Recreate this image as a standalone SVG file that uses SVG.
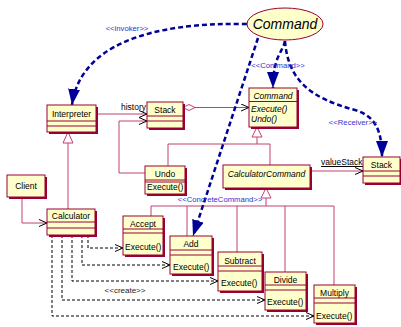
<svg xmlns="http://www.w3.org/2000/svg" width="401" height="327" viewBox="0 0 401 327">
<style>
.bg{fill:#fff}
.box{fill:#ffffcc;stroke:#990033;stroke-width:1}
.shd{fill:#990033}
.sep{stroke:#990033;stroke-width:1;fill:none}
.t{font-family:"Liberation Sans",Arial,sans-serif;font-size:8.5px;fill:#000}
.c{text-anchor:middle}
.i{font-style:italic}
.assoc{fill:none;stroke:#c04070;stroke-width:1}
.gen{fill:#fff;stroke:#c04070;stroke-width:1}
.dep{fill:none;stroke:#000;stroke-width:1;stroke-dasharray:3,2}
.blue{fill:none;stroke:#000099;stroke-width:2.5;stroke-dasharray:5,3}
.st{font-family:"Liberation Sans",Arial,sans-serif;font-size:7.7px;fill:#3333cc;text-anchor:middle}
.cr{font-family:"Liberation Sans",Arial,sans-serif;font-size:8px;fill:#222;text-anchor:middle}
</style>
<defs>
<marker id="open" viewBox="0 0 8 8" refX="8" refY="4" markerWidth="8" markerHeight="8" orient="auto" markerUnits="userSpaceOnUse">
<path d="M0,0.5 L8,4 L0,7.5" fill="none" stroke="#000" stroke-width="1"/>
</marker>
<marker id="bluehead" viewBox="0 0 16 12" refX="16" refY="6" markerWidth="16" markerHeight="12" orient="auto" markerUnits="userSpaceOnUse">
<path d="M0,0 L16,6 L0,12 z" fill="#000099"/>
</marker>
<marker id="diamond" viewBox="0 0 12 8" refX="0" refY="4" markerWidth="12" markerHeight="8" orient="auto" markerUnits="userSpaceOnUse">
<path d="M0,4 L6,1 L12,4 L6,7 z" fill="#fff" stroke="#c04070" stroke-width="1"/>
</marker>
</defs>
<rect class="bg" x="0" y="0" width="401" height="327"/>

<g id="connectors">
<path class="assoc" d="M68,143 L68,209"/>
<polygon class="gen" points="68,132 63,143 73,143"/>
<path class="assoc" d="M168,166 L168,144 L270,144 L270,165 M257,137 L257,144"/>
<polygon class="gen" points="257,127 252,137 262,137"/>
<path class="assoc" d="M266,198 L266,206 M151,206 L334,206 M151,206 L151,216 M187,206 L187,236 M237,206 L237,252 M285,206 L285,272 M334,206 L334,285"/>
<polygon class="gen" points="266,188 261,198 271,198"/>
<path class="assoc" d="M96,114 L147,114" marker-end="url(#open)"/>
<path class="assoc" d="M145,173 L119,173 L119,121 L147,121" marker-end="url(#open)"/>
<path class="assoc" d="M183,107.5 L249,107.5" marker-start="url(#diamond)" marker-end="url(#open)"/>
<path class="assoc" d="M310,171 L363,171" marker-end="url(#open)"/>
<path class="assoc" d="M22,197 L22,223 L47,223" marker-end="url(#open)"/>
<text class="t" x="121" y="110">history</text>
<text class="t" x="321" y="165">valueStack</text>
<line x1="321" y1="166.5" x2="364" y2="166.5" stroke="#000" stroke-width="1"/>
<path class="dep" d="M88,235 L88,248 L123,248" marker-end="url(#open)"/>
<path class="dep" d="M82,235 L82,265 L170,265" marker-end="url(#open)"/>
<path class="dep" d="M72,235 L72,281 L218,281" marker-end="url(#open)"/>
<path class="dep" d="M62,235 L62,300 L265,300" marker-end="url(#open)"/>
<path class="dep" d="M52,235 L52,316 L314,316" marker-end="url(#open)"/>
<text class="cr" x="125" y="293">&lt;&lt;create&gt;&gt;</text>
<path class="blue" d="M247,24 C150,22 80,45 72,105" marker-end="url(#bluehead)"/>
<path class="blue" d="M285,41 C283,52 273,56 273,88" marker-end="url(#bluehead)"/>
<path class="blue" d="M285,41 C288,80 310,98 355,110 C375,116 382,130 382,157" marker-end="url(#bluehead)"/>
<path class="blue" d="M258,38 L193,236" marker-end="url(#bluehead)"/>
<text class="st" x="127" y="31">&lt;&lt;invoker&gt;&gt;</text>
<text class="st" x="278" y="68">&lt;&lt;Command&gt;&gt;</text>
<text class="st" x="353" y="125">&lt;&lt;Receiver&gt;&gt;</text>
<text class="st" x="220" y="202">&lt;&lt;ConcreteCommand&gt;&gt;</text>
</g>

<g id="CommandPattern">
<ellipse cx="285" cy="24" rx="38" ry="16" fill="#ffffcc" stroke="#990033" stroke-width="1"/>
<text class="t c i" x="285" y="29" style="font-size:14px">Command</text>
</g>

<g id="Interpreter">
<rect class="shd" x="49" y="107" width="49" height="27"/>
<rect class="box" x="47" y="105" width="49" height="27"/>
<path class="sep" d="M47,121 H96 M47,126 H96"/>
<text class="t c" x="71.5" y="117">Interpreter</text>
</g>

<g id="HistoryStack">
<rect class="shd" x="149" y="104" width="36" height="26"/>
<rect class="box" x="147" y="102" width="36" height="26"/>
<path class="sep" d="M147,116 H183 M147,121 H183"/>
<text class="t c" x="165" y="113">Stack</text>
</g>

<g id="CommandClass">
<rect class="shd" x="251" y="90" width="48" height="39"/>
<rect class="box" x="249" y="88" width="48" height="39"/>
<path class="sep" d="M249,101.5 H297"/>
<text class="t c i" x="273" y="99">Command</text>
<text class="t i" x="251" y="112">Execute()</text>
<text class="t i" x="251" y="121.5">Undo()</text>
</g>

<g id="Undo">
<rect class="shd" x="147" y="168" width="40" height="28"/>
<rect class="box" x="145" y="166" width="40" height="28"/>
<path class="sep" d="M145,180 H185 M145,182 H185"/>
<text class="t c" x="165" y="177">Undo</text>
<text class="t" x="147" y="190">Execute()</text>
</g>

<g id="CalculatorCommand">
<rect class="shd" x="225" y="167" width="87" height="23"/>
<rect class="box" x="223" y="165" width="87" height="23"/>
<text class="t c i" x="266.5" y="177">CalculatorCommand</text>
</g>

<g id="ValueStack">
<rect class="shd" x="365" y="159" width="37" height="26"/>
<rect class="box" x="363" y="157" width="37" height="26"/>
<path class="sep" d="M363,171 H400 M363,176 H400"/>
<text class="t c" x="381.5" y="168">Stack</text>
</g>

<g id="Client">
<rect class="shd" x="9" y="177" width="38" height="22"/>
<rect class="box" x="7" y="175" width="38" height="22"/>
<text class="t c" x="26" y="189">Client</text>
</g>

<g id="Calculator">
<rect class="shd" x="49" y="211" width="48" height="26"/>
<rect class="box" x="47" y="209" width="48" height="26"/>
<path class="sep" d="M47,222 H95 M47,228 H95"/>
<text class="t c" x="71" y="219">Calculator</text>
</g>

<g id="Accept">
<rect class="shd" x="125" y="218" width="40" height="39"/>
<rect class="box" x="123" y="216" width="40" height="39"/>
<path class="sep" d="M123,229 H163 M123,233 H163"/>
<text class="t c" x="143" y="227">Accept</text>
<text class="t" x="125" y="250">Execute()</text>
</g>

<g id="Add">
<rect class="shd" x="172" y="238" width="42" height="38"/>
<rect class="box" x="170" y="236" width="42" height="38"/>
<path class="sep" d="M170,250 H212 M170,255 H212"/>
<text class="t c" x="191" y="247">Add</text>
<text class="t" x="173" y="270">Execute()</text>
</g>

<g id="Subtract">
<rect class="shd" x="220" y="254" width="44" height="39"/>
<rect class="box" x="218" y="252" width="44" height="39"/>
<path class="sep" d="M218,266 H262 M218,271 H262"/>
<text class="t c" x="240" y="264">Subtract</text>
<text class="t" x="221" y="286">Execute()</text>
</g>

<g id="Divide">
<rect class="shd" x="267" y="274" width="41" height="38"/>
<rect class="box" x="265" y="272" width="41" height="38"/>
<path class="sep" d="M265,285 H306 M265,290 H306"/>
<text class="t c" x="285.5" y="283">Divide</text>
<text class="t" x="267" y="305">Execute()</text>
</g>

<g id="Multiply">
<rect class="shd" x="316" y="287" width="41" height="38"/>
<rect class="box" x="314" y="285" width="41" height="38"/>
<path class="sep" d="M314,298 H355 M314,303 H355"/>
<text class="t c" x="334.5" y="296">Multiply</text>
<text class="t" x="316" y="319">Execute()</text>
</g>
</svg>
